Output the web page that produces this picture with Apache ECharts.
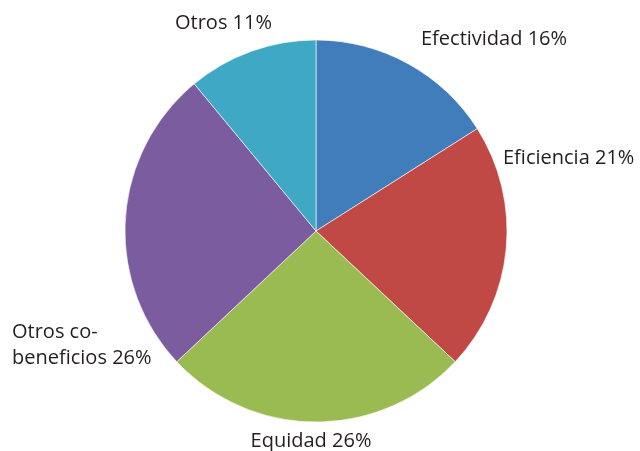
<!DOCTYPE html>
<html>
<head>
<meta charset="utf-8">
<script src="https://cdn.jsdelivr.net/npm/echarts@6/dist/echarts.min.js"></script>
<style>
  html, body { margin: 0; padding: 0; background: #fff; }
  #pie-chart { width: 640px; height: 451px; }
</style>
</head>
<body>
<div id="pie-chart"></div>
<script>
// datos del gráfico
var categories = ['Efectividad', 'Eficiencia', 'Equidad', 'Otros co-\nbeneficios', 'Otros']
var shares = [16, 21, 26, 26, 11]
var colors = ['#417CBB', '#C04845', '#9ABB52', '#7B5C9F', '#3FA8C4']

// posiciones de las etiquetas (como en el original, fuera del círculo)
var labelSpots = [
  { x: 421, y: 39, align: 'left' },
  { x: 503, y: 158, align: 'left' },
  { x: 311, y: 441, align: 'center' },
  { x: 12, y: 345, align: 'left' },
  { x: 175, y: 23, align: 'left' }
]

var chart = echarts.init(document.getElementById('pie-chart'))
var option = {
  animation: false,
  series: [
    {
      type: 'pie',
      center: [316, 231],
      radius: 191,
      startAngle: 90,
      clockwise: true,
      itemStyle: {
        borderColor: '#fff',
        borderWidth: 0.6
      },
      label: {
        show: true,
        position: 'outside',
        formatter: '{b} {c}%',
        color: '#231F20',
        fontFamily: 'Open Sans',
        fontSize: 20,
        lineHeight: 26,
        overflow: 'none'
      },
      labelLine: { show: false },
      labelLayout: function (params) {
        var p = labelSpots[params.dataIndex]
        return { x: p.x, y: p.y, align: p.align, verticalAlign: 'middle', width: 300 }
      },
      emphasis: { disabled: true },
      data: categories.map(function (name, i) {
        return { name: name, value: shares[i], itemStyle: { color: colors[i] } }
      })
    }
  ]
}
chart.setOption(option)
</script>
</body>
</html>
